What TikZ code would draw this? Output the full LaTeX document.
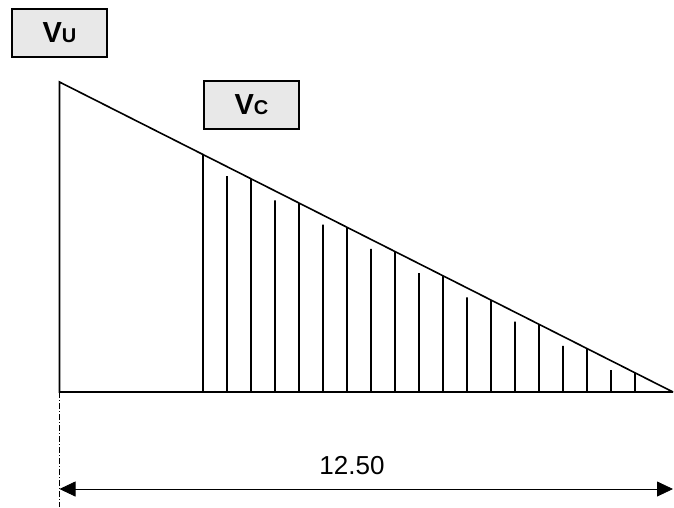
\documentclass[tikz,border=0pt]{standalone}
\usepackage{fontspec}
\setmainfont{Liberation Sans}
\usepackage{tikz}
\usetikzlibrary{calc}
\usetikzlibrary{arrows.meta}
\tikzset{
    forceline/.style={
        line width=1.6pt,
        black
    },
    % cases grises des efforts
    effortbox/.style={
        draw=black,
        line width=1.2pt,
        fill=black!9,
        minimum width=95pt,
        minimum height=48pt,
        inner sep=0pt
    },
    dimarrow/.style={
        line width=0.8pt,
        black,
        <->,
        >={Triangle[length=16pt, width=15pt]}
    }
}

\begin{document}
\begin{tikzpicture}[x=1pt,y=-1pt]
	\useasboundingbox (0,0) rectangle (674,507);
	
	\path 
	(59.5,82) coordinate (a1)
	(59.5,392) coordinate (a2)
	(673,392) coordinate (a3)
	(59.5,489) coordinate (d1)
	(673,489) coordinate (d2)
	(59.5,507) coordinate (d3);
	
	% triangle de l'effort tranchant
	\draw[forceline] (a3) -- (a2) -- (a1) -- (a3);
	
	% hachures
	\foreach \x in {203,251,...,635}
	\draw[forceline] (\x,392) -- ($(a1)!{(\x-59.5)/613.5}!(a3)$);
	\foreach \x in {227,275,...,611}
	\draw[forceline] (\x,392) -- ($(a1)!{(\x-59.5)/613.5}!(a3)+(0,9.5)$);
	
	% cote
	\draw[line width=0.6pt,dash pattern=on 6pt off 2pt on 1pt off 2pt] (a2) -- (d3);
	\draw[dimarrow] (d1) -- (d2);
	\node (cote) at (352,466) {\fontsize{26}{26}\selectfont 12.50};
	
	% etiquettes
	\node[effortbox] (vu) at (59.5,33) {\bfseries\fontsize{29}{29}\selectfont V\fontsize{20}{20}\selectfont U};
	\node[effortbox] (vc) at (251.5,105) {\bfseries\fontsize{29}{29}\selectfont V\fontsize{20}{20}\selectfont C};
\end{tikzpicture}
\end{document}
